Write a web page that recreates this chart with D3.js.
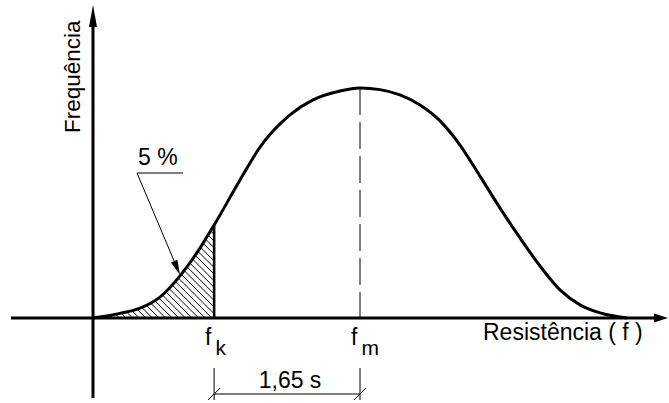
<!DOCTYPE html>
<html>
<head>
<meta charset="utf-8">
<script src="https://cdn.jsdelivr.net/npm/d3@7"></script>
<style>
  html, body { margin: 0; padding: 0; background: #fff; }
  svg { display: block; }
  text { font-family: "Liberation Sans", Arial, sans-serif; fill: #000; }
</style>
</head>
<body>
<svg id="chart" width="669" height="403"></svg>
<script>
// Resistance, in standard deviations (s) measured from the mean fm
const resistance = [-3.02, -2.715, -2.488, -2.262, -2.036, -1.81, -1.65, -1.357, -1.131, -0.792, -0.532, -0.226, 0,
                    0.226, 0.452, 0.679, 0.905, 1.131, 1.357, 1.584, 1.81, 2.036, 2.262, 2.488, 2.715, 3.02];
// Relative frequency (peak = 1)
const frequency  = [0, 0.02, 0.043, 0.091, 0.183, 0.304, 0.404, 0.60, 0.743, 0.883, 0.948, 0.987, 1,
                    0.993, 0.970, 0.926, 0.857, 0.752, 0.617, 0.478, 0.348, 0.226, 0.122, 0.057, 0.022, 0];

const fkOffset = -1.65;            // characteristic value fk = fm - 1.65 s
const pointerIndex = 4;            // point on the curve the "5 %" leader points to
const axisLabels = ["Frequência", "Resistência ( f )"];
const markLabels = ["5 %", "1,65 s"];

const svg = d3.select("#chart");
const x = d3.scaleLinear().domain([-3.02, 3.02]).range([93, 627]);
const y = d3.scaleLinear().domain([0, 1]).range([318, 88]);

const pts = resistance.map((r, i) => [r, frequency[i]]);
const curve = d3.curveMonotoneX;
const line = d3.line().x(d => x(d[0])).y(d => y(d[1])).curve(curve);
const area = d3.area().x(d => x(d[0])).y0(y(0)).y1(d => y(d[1])).curve(curve);

const x0 = x(0), y0 = y(0);
const xfk = x(fkOffset);
const yfk = y(frequency[resistance.indexOf(fkOffset)]);

// clip regions for the hatched tail
const defs = svg.append("defs");
defs.append("clipPath").attr("id", "under").append("path").attr("d", area(pts));
defs.append("clipPath").attr("id", "tail").append("rect")
  .attr("x", x(-3.02) - 5).attr("y", 0).attr("width", xfk - x(-3.02) + 5).attr("height", y0);

// hatching "\\" inside the tail
const hatch = svg.append("g").attr("clip-path", "url(#tail)")
  .append("g").attr("clip-path", "url(#under)");
const step = 6.6;
d3.range(x(-3.02) - 140, xfk + 10, step).forEach(c => {
  hatch.append("line")
    .attr("x1", c).attr("y1", y0 - 140)
    .attr("x2", c + 150).attr("y2", y0 + 10)
    .attr("stroke", "#000").attr("stroke-width", 1);
});

// axes with arrowheads
const axisW = 3;
const xLeft = 11, xRight = 668, yTop = 5, yBottom = 398;
svg.append("line").attr("x1", xLeft).attr("y1", y0).attr("x2", xRight - 10).attr("y2", y0)
  .attr("stroke", "#000").attr("stroke-width", axisW);
svg.append("path")
  .attr("d", `M${xRight},${y0} L${xRight - 14},${y0 - 4.5} L${xRight - 14},${y0 + 4.5} Z`)
  .attr("fill", "#000");
svg.append("line").attr("x1", x(-3.02)).attr("y1", yBottom).attr("x2", x(-3.02)).attr("y2", yTop + 12)
  .attr("stroke", "#000").attr("stroke-width", axisW);
svg.append("path")
  .attr("d", `M${x(-3.02)},${yTop} L${x(-3.02) - 4},${yTop + 22} L${x(-3.02) + 4},${yTop + 22} Z`)
  .attr("fill", "#000");

// dashed line at the mean
svg.append("line").attr("x1", x0).attr("y1", y(1)).attr("x2", x0).attr("y2", y0)
  .attr("stroke", "#000").attr("stroke-width", 1).attr("stroke-dasharray", "27,7");

// fk vertical
svg.append("line").attr("x1", xfk).attr("y1", yfk).attr("x2", xfk).attr("y2", y0)
  .attr("stroke", "#000").attr("stroke-width", 2.6);

// frequency curve
svg.append("path").attr("d", line(pts))
  .attr("fill", "none").attr("stroke", "#000").attr("stroke-width", 3)
  .attr("stroke-linejoin", "round");

// axis titles
svg.append("text").attr("transform", `translate(80,133) rotate(-90)`)
  .attr("font-size", 22.5).text(axisLabels[0]);
svg.append("text").attr("x", 483).attr("y", 340)
  .attr("font-size", 23).text(axisLabels[1]);

// fk and fm labels
function subLabel(cx, sub) {
  const t = svg.append("text").attr("x", cx - 9).attr("y", 345).attr("font-size", 23);
  t.append("tspan").text("f");
  t.append("tspan").attr("font-size", 21).attr("dx", 4).attr("dy", 10).text(sub);
}
subLabel(xfk, "k");
subLabel(x0, "m");

// "5 %" callout with leader arrow
const ux1 = 137, uy = 173, ux2 = 183;
svg.append("text").attr("x", 138).attr("y", 165).attr("font-size", 23).text(markLabels[0]);
svg.append("line").attr("x1", ux1).attr("y1", uy).attr("x2", ux2).attr("y2", uy)
  .attr("stroke", "#000").attr("stroke-width", 1);
const tipX = x(resistance[pointerIndex]), tipY = y(frequency[pointerIndex]) - 1;
const ang = Math.atan2(tipY - uy, tipX - ux1);
const aLen = 15, aHalf = 3.5;
const bx = tipX - aLen * Math.cos(ang), by = tipY - aLen * Math.sin(ang);
svg.append("line").attr("x1", ux1).attr("y1", uy).attr("x2", bx).attr("y2", by)
  .attr("stroke", "#000").attr("stroke-width", 1);
svg.append("path")
  .attr("d", `M${tipX},${tipY} L${bx + aHalf * Math.sin(ang)},${by - aHalf * Math.cos(ang)} L${bx - aHalf * Math.sin(ang)},${by + aHalf * Math.cos(ang)} Z`)
  .attr("fill", "#000");

// 1,65 s dimension
const dimY = 394;
[xfk, x0].forEach(px => {
  svg.append("line").attr("x1", px).attr("y1", 368).attr("x2", px).attr("y2", 400)
    .attr("stroke", "#000").attr("stroke-width", 1);
  svg.append("line").attr("x1", px - 6).attr("y1", dimY + 6).attr("x2", px + 6).attr("y2", dimY - 6)
    .attr("stroke", "#000").attr("stroke-width", 1);
});
svg.append("line").attr("x1", xfk).attr("y1", dimY).attr("x2", x0).attr("y2", dimY)
  .attr("stroke", "#000").attr("stroke-width", 1);
svg.append("text").attr("x", (xfk + x0) / 2 + 3).attr("y", 388).attr("text-anchor", "middle")
  .attr("font-size", 23).text(markLabels[1]);
</script>
</body>
</html>
